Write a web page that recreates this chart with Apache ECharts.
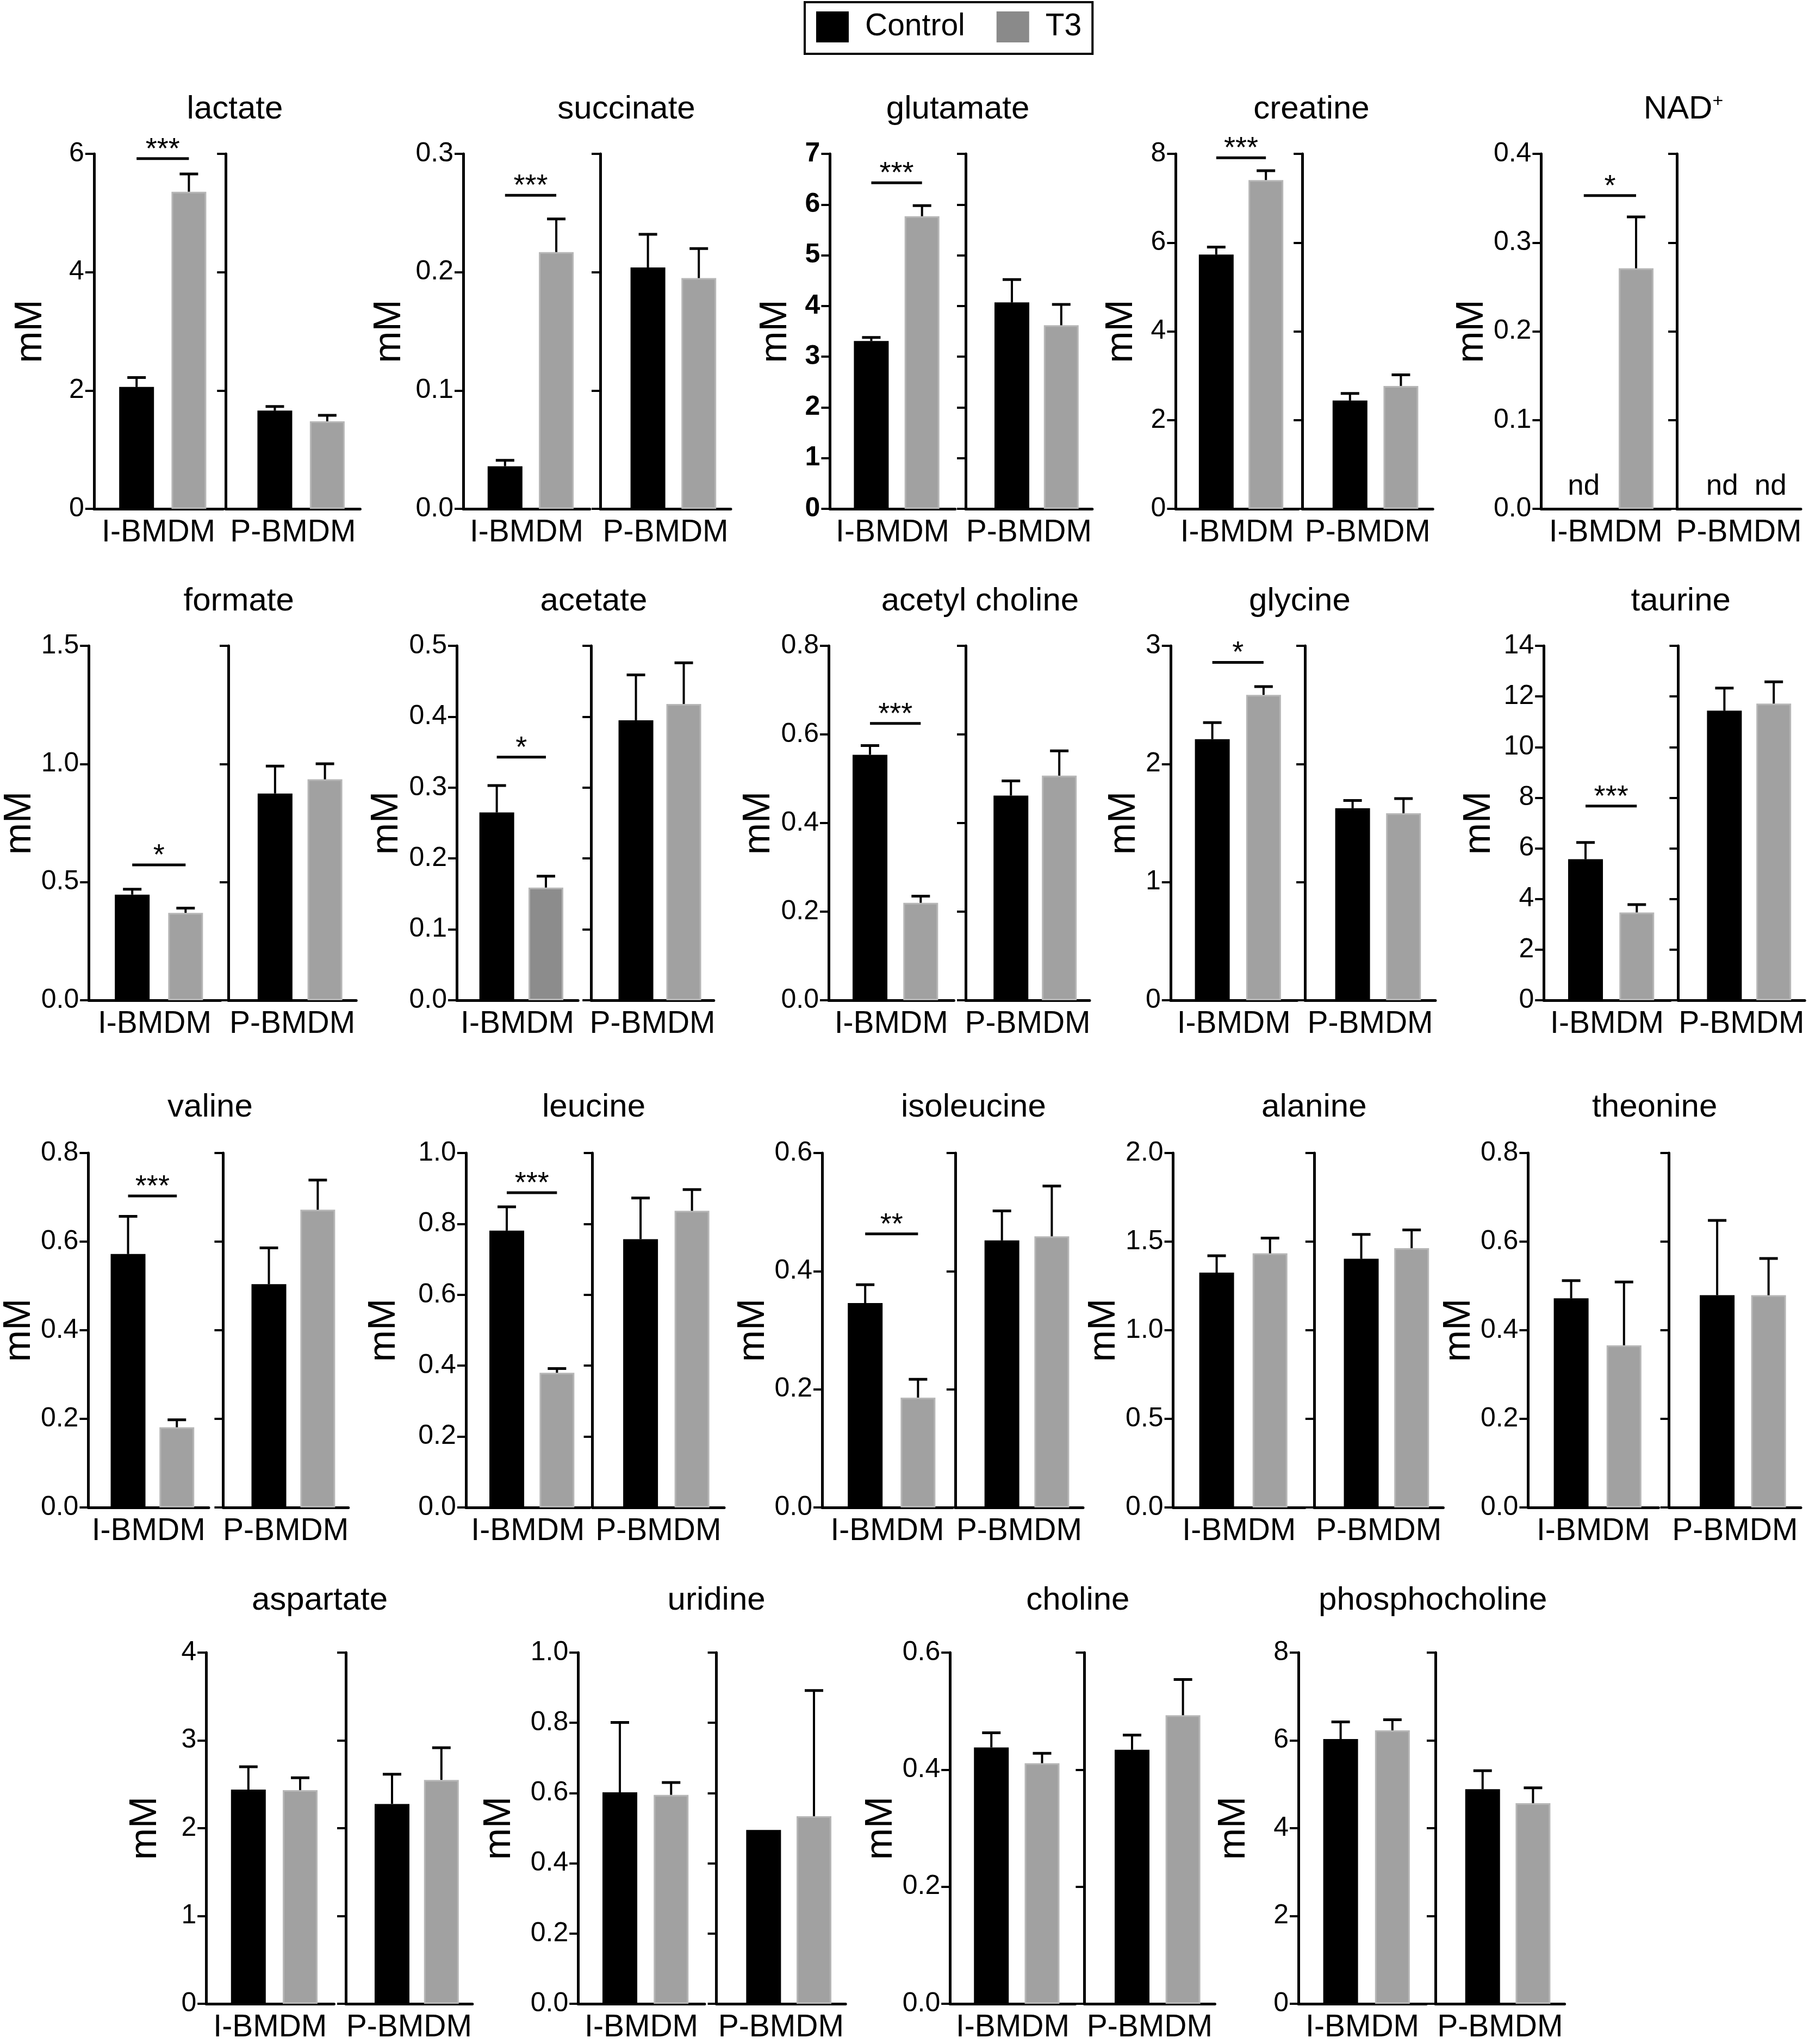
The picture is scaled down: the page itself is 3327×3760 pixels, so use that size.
<!doctype html>
<html>
<head>
<meta charset="utf-8">
<title>metabolites - Control vs T3</title>
<script src="https://cdn.jsdelivr.net/npm/echarts@6/dist/echarts.min.js"></script>
<style>
    body{margin:0;background:#fff;}
    #main{width:3327px;height:3760px;}
</style>
</head>
<body>
<div id="main"></div>
<script>
    // metabolites, one panel each (reading order)
    var names = ['lactate','succinate','glutamate','creatine','NAD+',
                 'formate','acetate','acetyl choline','glycine','taurine',
                 'valine','leucine','isoleucine','alanine','theonine',
                 'aspartate','uridine','choline','phosphocholine'];
    var groups = ['I-BMDM','P-BMDM'];

    // mean values (mM), null = not detected
    var ctrlI    = [2.06, 0.036, 3.31, 5.73, null, 0.447, 0.265, 0.554, 2.21, 5.57, 0.572, 0.781, 0.346, 1.325, 0.472, 2.44, 0.602, 0.438, 6.03];
    var ctrlIErr = [0.16, 0.005, 0.07, 0.17, 0,    0.023, 0.038, 0.021, 0.14, 0.66, 0.085, 0.067, 0.031, 0.095, 0.04,  0.26, 0.199, 0.025, 0.39];
    var t3I      = [5.36, 0.217, 5.77, 7.41, 0.271, 0.370, 0.159, 0.220, 2.585, 3.47, 0.181, 0.380, 0.186, 1.434, 0.366, 2.434, 0.595, 0.411, 6.23];
    var t3IErr   = [0.30, 0.028, 0.21, 0.21, 0.058, 0.020, 0.016, 0.015, 0.07,  0.31, 0.017, 0.012, 0.031, 0.086, 0.143, 0.14,  0.035, 0.017, 0.24];
    var ctrlP    = [1.66, 0.204, 4.07, 2.44, null, 0.875, 0.395, 0.462, 1.625, 11.44, 0.504, 0.757, 0.452, 1.403, 0.479, 2.276, 0.495, 0.434, 4.89];
    var ctrlPErr = [0.07, 0.028, 0.45, 0.16, 0,    0.116, 0.064, 0.033, 0.066, 0.89,  0.082, 0.116, 0.050, 0.138, 0.169, 0.338, 0,     0.025, 0.42];
    var t3P      = [1.48, 0.195, 3.62, 2.77, null, 0.935, 0.418, 0.507, 1.583, 11.72, 0.672, 0.837, 0.459, 1.463, 0.479, 2.55, 0.534, 0.493, 4.57];
    var t3PErr   = [0.10, 0.025, 0.41, 0.25, 0,    0.066, 0.058, 0.056, 0.124, 0.86,  0.067, 0.060, 0.085, 0.103, 0.083, 0.367, 0.358, 0.061, 0.35];

    // y axis range and step
    var yMax  = [6, 0.3, 7, 8, 0.4, 1.5, 0.5, 0.8, 3, 14, 0.8, 1.0, 0.6, 2.0, 0.8, 4, 1.0, 0.6, 8];
    var yStep = [2, 0.1, 1, 2, 0.1, 0.5, 0.1, 0.2, 1, 2,  0.2, 0.2, 0.2, 0.5, 0.2, 1, 0.2, 0.2, 2];

    // significance bar height (mM) and stars, I-BMDM Control vs T3
    var sigLevel = [5.92, 0.265, 6.43, 7.91, 0.353, 0.573, 0.343, 0.625, 2.86, 7.67, 0.703, 0.888, 0.463, null, null, null, null, null, null];
    var sigStars = ['***','***','***','***','*','*','*','***','*','***','***','***','**','','','','','',''];

    // ---- layout (measured on a 1387px wide copy, scaled by S) ----
    var S = 2.4;
    var rowOf = [0,0,0,0,0, 1,1,1,1,1, 2,2,2,2,2, 3,3,3,3];
    var rowTop = [283, 1188, 2121, 3040];
    var rowBottom = [936, 1840, 2773, 3692];
    var rowTitleBase = [221, 1126, 2057, 2964];
    // [left axis, left end, right axis, right end]
    var panelBox = [
        [72,171,173,276], [355,452,460,560], [636,732,740,837], [901,995,998,1098], [1181,1280,1285,1380],
        [68,169,175,273], [350,443,453,547], [635,731,740,835], [897,994,1000,1100], [1183,1280,1286,1383],
        [64,160,171,267], [357,452,454,555], [630,730,732,830], [899,1000,1007,1106], [1171,1271,1279,1380],
        [158,256,265,362], [443,540,549,648], [728,824,831,931], [995,1093,1100,1199]
    ];
    var titleX = [180,480,734,1005,1290, 183,455,751,996,1288, 161,455,746,1007,1268, 245,549,826,1098];
    var mmGap  = [40,48,33,33,41, 36,45,45,25,41, 41,54,43,40,44, 38,52,44,41];

    var FONT = '"Liberation Sans", Arial, Helvetica, sans-serif';
    var GRAY = '#a1a1a1';
    var darkT3 = {'acetate': '#8c8c8c'};

    function errorRender(params, api) {
        var x = api.value(0), v = api.value(1), e = api.value(2);
        if (!(e > 0)) return;
        var p0 = api.coord([x, v]), p1 = api.coord([x, v + e]);
        var cap = 17;
        return {type: 'group', children: [
            {type: 'line', shape: {x1: p0[0], y1: p0[1], x2: p1[0], y2: p1[1]}, style: {stroke: '#000', lineWidth: 4}},
            {type: 'line', shape: {x1: p1[0] - cap, y1: p1[1], x2: p1[0] + cap, y2: p1[1]}, style: {stroke: '#000', lineWidth: 5}}
        ]};
    }

    function ndRender(params, api) {
        var p = api.coord([api.value(0), 0]);
        return {type: 'text', x: p[0], y: p[1] - 41,
            style: {text: 'nd', fontSize: 53, fontFamily: FONT, fill: '#000', align: 'center', verticalAlign: 'middle'}};
    }

    function sigRender(stars) {
        return function (params, api) {
            var lvl = api.value(1);
            var a = api.coord([1, lvl]), b = api.coord([2, lvl]);
            return {type: 'group', children: [
                {type: 'line', shape: {x1: a[0], y1: a[1], x2: b[0], y2: b[1]}, style: {stroke: '#000', lineWidth: 5}},
                {type: 'text', x: (a[0] + b[0]) / 2, y: a[1] - 16,
                    style: {text: stars, fontSize: 54, fontFamily: FONT, fill: '#000', align: 'center', verticalAlign: 'middle'}}
            ]};
        };
    }

    var grids = [], xAxes = [], yAxes = [], series = [], graphics = [];

    names.forEach(function (name, p) {
        var r = rowOf[p], b = panelBox[p];
        var top = rowTop[r], h = rowBottom[r] - rowTop[r];
        var dec = yStep[p] < 1 ? 1 : 0;
        var vals = [[ctrlI[p], ctrlIErr[p], t3I[p], t3IErr[p]], [ctrlP[p], ctrlPErr[p], t3P[p], t3PErr[p]]];

        [0, 1].forEach(function (side) {
            var gi = grids.length;
            var x0 = (side ? b[2] : b[0]) * S, x1 = (side ? b[3] : b[1]) * S;
            grids.push({left: x0, top: top, width: x1 - x0, height: h});

            xAxes.push({
                type: 'value', gridIndex: gi,
                min: side ? 0.064 : 0.185, max: side ? 2.628 : 2.655,
                axisLine: {show: true, onZero: false, lineStyle: {color: '#000', width: 5}},
                axisTick: {show: false}, axisLabel: {show: false}, splitLine: {show: false},
                name: groups[side], nameLocation: 'middle', nameGap: 16,
                nameTextStyle: {fontSize: 57, color: '#000', fontFamily: FONT}
            });

            yAxes.push({
                type: 'value', gridIndex: gi, min: 0, max: yMax[p], interval: yStep[p],
                axisLine: {show: true, lineStyle: {color: '#000', width: 5}},
                axisTick: {show: true, length: 16, lineStyle: {color: '#000', width: 4}},
                axisLabel: {show: side === 0, margin: 18, fontSize: 50, color: '#000', fontFamily: FONT,
                    fontWeight: name === 'glutamate' ? 'bold' : 'normal',
                    formatter: function (v) { return v.toFixed(dec); }},
                splitLine: {show: false},
                name: side === 0 ? 'mM' : '', nameLocation: 'middle', nameRotate: 90,
                nameGap: mmGap[p] * S - 15,
                nameTextStyle: {fontSize: 70, color: '#000', fontFamily: FONT}
            });

            var v = vals[side];
            var t3Color = (side === 0 && darkT3[name]) ? darkT3[name] : GRAY;
            series.push({type: 'bar', name: 'Control', xAxisIndex: gi, yAxisIndex: gi,
                data: v[0] == null ? [] : [[1, v[0]]], barWidth: 64, barGap: '-100%',
                itemStyle: {color: '#000'}, silent: true});
            series.push({type: 'bar', name: 'T3', xAxisIndex: gi, yAxisIndex: gi,
                data: v[2] == null ? [] : [[2, v[2]]], barWidth: 64, barGap: '-100%',
                itemStyle: {color: t3Color, borderColor: '#b6b6b6', borderWidth: 3}, silent: true});

            var errData = [], ndData = [];
            if (v[0] == null) ndData.push([1, 0]); else errData.push([1, v[0], v[1]]);
            if (v[2] == null) ndData.push([2, 0]); else errData.push([2, v[2], v[3]]);
            series.push({type: 'custom', xAxisIndex: gi, yAxisIndex: gi, renderItem: errorRender,
                data: errData, z: 5, silent: true});
            if (ndData.length) {
                series.push({type: 'custom', xAxisIndex: gi, yAxisIndex: gi, renderItem: ndRender,
                    data: ndData, z: 5, silent: true});
            }
            if (side === 0 && sigLevel[p] != null) {
                series.push({type: 'custom', xAxisIndex: gi, yAxisIndex: gi, renderItem: sigRender(sigStars[p]),
                    data: [[1.5, sigLevel[p]]], z: 6, silent: true});
            }
        });

        // panel title
        var isIon = name.charAt(name.length - 1) === '+';
        graphics.push({
            type: 'text', x: titleX[p] * S, y: rowTitleBase[r] - 20,
            style: {
                text: isIon ? name.slice(0, -1) + '{s|+}' : name,
                fontSize: 60, fontFamily: FONT, fill: '#000', align: 'center', verticalAlign: 'middle',
                rich: {s: {fontSize: 34, fontFamily: FONT, fill: '#000', padding: [0, 0, 28, 0]}}
            }
        });
    });

    var myChart = echarts.init(document.getElementById('main'));
    var option = {
        backgroundColor: '#fff',
        animation: false,
        legend: {
            data: [{name: 'Control', itemStyle: {color: '#000', borderWidth: 0}},
                   {name: 'T3', itemStyle: {color: '#8a8a8a', borderWidth: 0}}],
            left: 1480, top: 4, icon: 'rect', itemWidth: 60, itemHeight: 57, itemGap: 58,
            padding: [17, 20, 21, 21], borderColor: '#000', borderWidth: 4, selectedMode: false,
            textStyle: {fontSize: 57, color: '#000', fontFamily: FONT, padding: [0, 0, 0, 25]}
        },
        grid: grids,
        xAxis: xAxes,
        yAxis: yAxes,
        series: series,
        graphic: graphics
    };
    myChart.setOption(option);
</script>
</body>
</html>
